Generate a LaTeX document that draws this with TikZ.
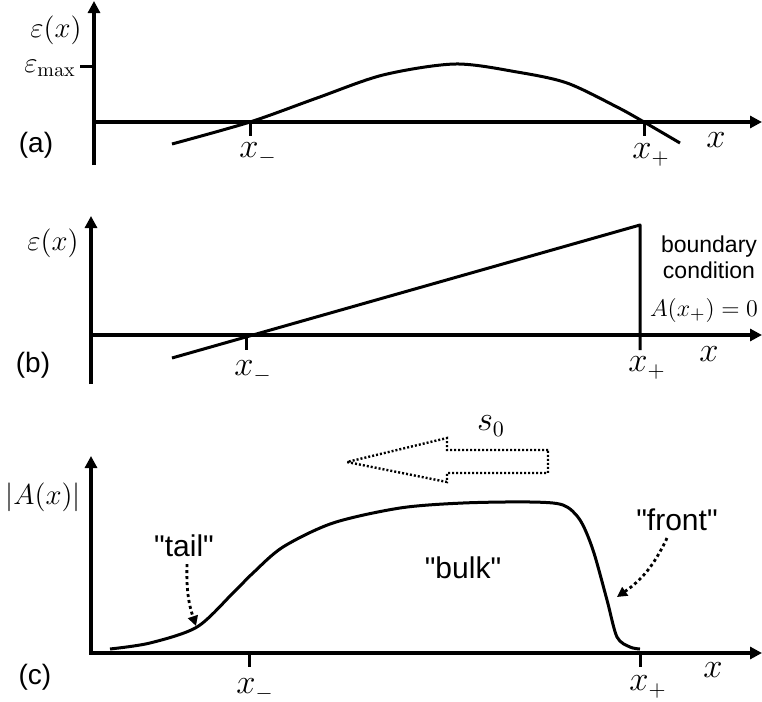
\documentclass[tikz,border=0pt]{standalone}
\usepackage{amsmath}
\usepackage[no-math]{fontspec}
\setmainfont{Liberation Sans}
\usetikzlibrary{arrows.meta,positioning}
% plain font without the TeX mapping, so that " stays straight
\font\quotedfont="Liberation Sans" at 15pt

\begin{document}
\begin{tikzpicture}[
            x=0.5pt, y=-0.5pt,
            >={Triangle[length=6pt,width=6pt]},
            axis/.style={line width=2pt},
            tick/.style={line width=1.5pt},
            curve/.style={line width=1.5pt, line join=round},
            hint/.style={line width=1.4pt, dash pattern=on 1.5pt off 1.5pt, -{Triangle[length=5pt,width=5pt]}},
            hollow/.style={line width=1.2pt, dash pattern=on 1pt off 1pt},
            panel/.style={font=\fontsize{14}{16}\selectfont},
            word/.style={font=\quotedfont},
            note/.style={font=\fontsize{11.5}{13}\selectfont, align=center},
            mlabel/.style={font=\fontsize{14.5}{17}\selectfont},
            xlabel/.style={font=\fontsize{16}{19}\selectfont}
        ]
            \useasboundingbox (0,0) rectangle (762,702);

            % (a)
            \draw[axis,->] (94,165) -- (94,1);
            \draw[axis,->] (94,122) -- (762,122);
            \draw[tick] (80,66) -- (94,66);
            \draw[tick] (250,122) -- (250,136);
            \draw[tick] (644,122) -- (644,136);
            \draw[curve] plot[smooth, tension=0.5] coordinates {(172,144) (250,122) (317,98) (383,75) (455,64) (517,72) (567,83) (617,107) (644,122) (680,143)};
            \node[mlabel] (epsa) at (56,30) {$\varepsilon(x)$};
            \node[mlabel] (epsmax) at (50,68) {$\varepsilon_{\max}$};
            \node[panel] (laba) at (36,145) {(a)};
            \node[xlabel] (xma) at (258,154) {$x_-$};
            \node[xlabel] (xpa) at (651,155) {$x_+$};
            \node[xlabel] (xa) at (716,140) {$x$};

            % (b)
            \draw[axis,->] (91,384) -- (91,216);
            \draw[axis,->] (91,335) -- (762,335);
            \draw[tick] (246,335) -- (246,350);
            \draw[curve] (172,358) -- (640,225) -- (640,350);
            \node[mlabel] (epsb) at (53,243) {$\varepsilon(x)$};
            \node[panel] (labb) at (33,365) {(b)};
            \node[xlabel] (xmb) at (253,372) {$x_-$};
            \node[xlabel] (xpb) at (647,368) {$x_+$};
            \node[xlabel] (xb) at (709,354) {$x$};
            \node[note] (bc) at (709,257) {boundary\\condition};
            \node[mlabel, font=\fontsize{13}{16}\selectfont] (bcA) at (704,310) {$A(x_+)=0$};

            % (c)
            \draw[axis,<->] (91,456) -- (91,653) -- (762,653);
            \draw[tick] (249,653) -- (249,667);
            \draw[tick] (640,653) -- (640,667);
            \draw[curve] plot[smooth] coordinates {(110,649) (150,643) (197,627) (233,593) (253,573) (283,547) (333,523) (400,508) (463,503) (530,502) (563,505) (580,520) (593,550) (607,600) (617,637) (630,647) (640,649)};
            \draw[hollow] (548,450) -- (447,450) -- (447,438) -- (347,462) -- (447,482) -- (447,473) -- (548,473) -- cycle;
            \node[xlabel] (speed) at (491,426) {$s_0$};
            \node[mlabel] (absA) at (43,497) {$|A(x)|$};
            \node[panel] (labc) at (35,677) {(c)};
            \node[xlabel] (xmc) at (255,690) {$x_-$};
            \node[xlabel] (xpc) at (648,687) {$x_+$};
            \node[xlabel] (xc) at (713,670) {$x$};
            \node[word] (tail) at (184,546) {"tail"};
            \node[word] (bulk) at (463,568) {"bulk"};
            \node[word] (front) at (677,520) {"front"};
            \coordinate (tailpt) at (196,626);
            \coordinate (frontpt) at (617,597);

            \draw[hint] ([xshift=1.5pt]tail.south) to[bend right=10] (tailpt);
            \draw[hint] ([xshift=-5pt]front.south) to[bend left=15] (frontpt);
        \end{tikzpicture}
\end{document}
